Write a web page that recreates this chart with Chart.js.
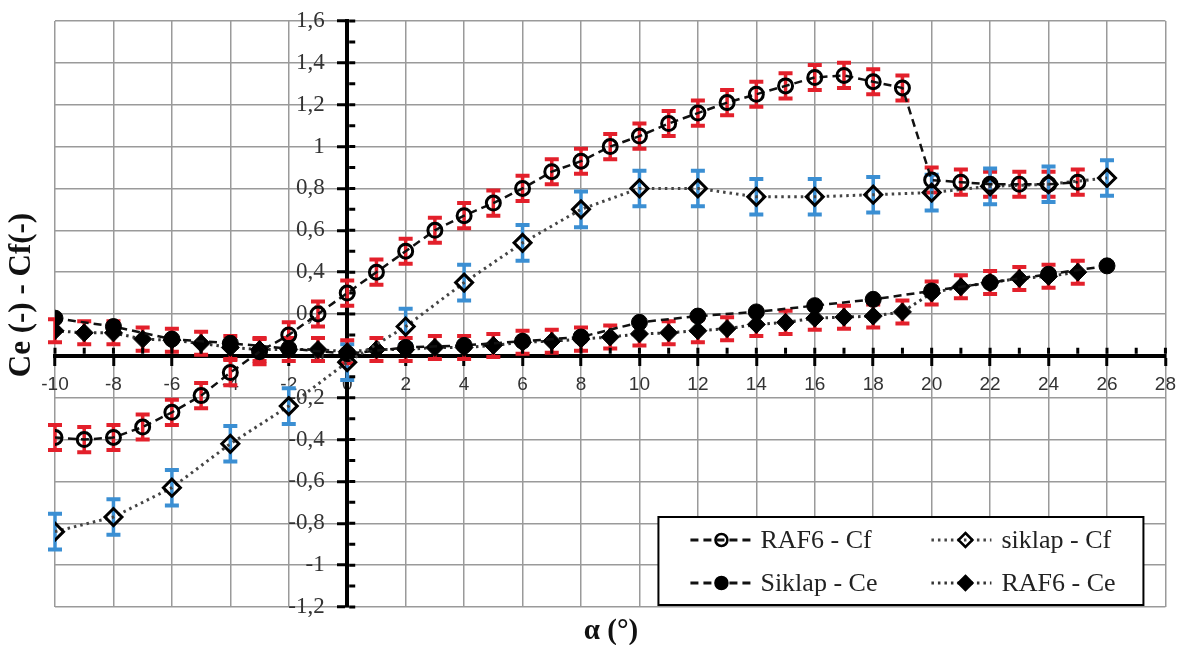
<!DOCTYPE html>
<html>
<head>
<meta charset="utf-8">
<script src="https://cdn.jsdelivr.net/npm/chart.js@4/dist/chart.umd.min.js"></script>
<style>
  html, body { margin: 0; padding: 0; background: #fff; }
  #wrap { width: 1186px; height: 645px; }
</style>
</head>
<body>
<div id="wrap"><canvas id="chart" width="1186" height="645"></canvas></div>
<script>
// angle of attack, every degree / every second degree
const alphaAll = [-10,-9,-8,-7,-6,-5,-4,-3,-2,-1,0,1,2,3,4,5,6,7,8,9,10,11,12,13,14,15,16,17,18,19,20,21,22,23,24,25]
const alphaEven = [-10,-8,-6,-4,-2,0,2,4,6,8,10,12,14,16,18,20,22,24,26]

const raf6Cf = [-0.39,-0.40,-0.39,-0.34,-0.27,-0.19,-0.08,0.02,0.10,0.20,0.30,0.40,0.50,0.60,0.67,0.73,0.80,0.88,0.93,1.00,1.05,1.11,1.16,1.21,1.25,1.29,1.33,1.34,1.31,1.28,0.84,0.83,0.82,0.82,0.82,0.83]
const siklapCf = [-0.84,-0.77,-0.63,-0.42,-0.24,-0.03,0.14,0.35,0.54,0.70,0.80,0.80,0.76,0.76,0.77,0.78,0.81,0.82,0.85]
const siklapCe = [0.18,0.14,0.08,0.06,0.035,0.01,0.04,0.05,0.07,0.09,0.16,0.19,0.21,0.24,0.27,0.31,0.35,0.39,0.43]
const raf6Ce = [0.12,0.11,0.11,0.08,0.075,0.06,0.04,0.03,0.03,0.03,0.02,0.03,0.03,0.04,0.04,0.05,0.065,0.07,0.08,0.09,0.105,0.11,0.12,0.13,0.15,0.16,0.18,0.185,0.19,0.21,0.30,0.33,0.35,0.37,0.38,0.40]

// half height of the error bars
const errRaf6Cf = 0.06
const errSiklapCf = 0.085
const errRaf6Ce = 0.055

const RED = '#e3202b'
const BLUE = '#3b8fd3'

const toPoints = (xs, ys) => xs.map((x, i) => ({ x, y: ys[i] }))

// error bars under the markers
const errorBars = {
    id: 'errorBars',
    beforeDatasetsDraw(chart) {
        const { ctx, scales: { x, y } } = chart
        chart.data.datasets.forEach(ds => {
            if (!ds.errorBar) return
            ctx.save()
            ctx.strokeStyle = ds.errorColor
            ds.data.forEach(p => {
                const px = x.getPixelForValue(p.x)
                const top = y.getPixelForValue(p.y + ds.errorBar)
                const bot = y.getPixelForValue(p.y - ds.errorBar)
                ctx.lineWidth = 3.5
                ctx.beginPath()
                ctx.moveTo(px, top); ctx.lineTo(px, bot)
                ctx.stroke()
                ctx.lineWidth = 4
                ctx.beginPath()
                ctx.moveTo(px - 7, top); ctx.lineTo(px + 7, top)
                ctx.moveTo(px - 7, bot); ctx.lineTo(px + 7, bot)
                ctx.stroke()
            })
            ctx.restore()
        })
    }
}

// small ticks on the crossing axes
const minorTicks = {
    id: 'minorTicks',
    beforeDatasetsDraw(chart) {
        const { ctx, scales: { x, y } } = chart
        const x0 = x.getPixelForValue(0)
        const y0 = y.getPixelForValue(0)
        ctx.save()
        ctx.strokeStyle = '#000'
        ctx.lineWidth = 3
        ctx.beginPath()
        for (let v = x.min; v <= x.max; v++) {
            const px = x.getPixelForValue(v)
            ctx.moveTo(px, y0 - 2); ctx.lineTo(px, y0 - 8)
        }
        for (let i = Math.round(y.min * 10); i <= Math.round(y.max * 10); i++) {
            const py = y.getPixelForValue(i / 10)
            ctx.moveTo(x0 + 2, py); ctx.lineTo(x0 + 8, py)
        }
        ctx.stroke()
        ctx.restore()
    }
}

const marker = (ctx, style, filled, cx, cy, r) => {
    ctx.beginPath()
    if (style === 'circle') {
        ctx.arc(cx, cy, r, 0, Math.PI * 2)
    } else {
        ctx.moveTo(cx, cy - r); ctx.lineTo(cx + r, cy)
        ctx.lineTo(cx, cy + r); ctx.lineTo(cx - r, cy)
        ctx.closePath()
    }
    if (filled) { ctx.fillStyle = '#000'; ctx.fill() }
    ctx.setLineDash([])
    ctx.lineWidth = 2.5
    ctx.strokeStyle = '#000'
    ctx.stroke()
}

// axis titles and the boxed legend
const decorations = {
    id: 'decorations',
    afterDraw(chart) {
        const { ctx, chartArea: area } = chart
        ctx.save()
        ctx.fillStyle = '#111'
        ctx.textAlign = 'center'
        ctx.textBaseline = 'middle'
        ctx.font = 'bold 29px "Liberation Serif"'
        ctx.fillText('α (°)', 611, 632)
        ctx.save()
        ctx.translate(22, 295)
        ctx.rotate(-Math.PI / 2)
        ctx.font = 'bold 31px "Liberation Serif"'
        ctx.fillText('Ce (-) - Cf(-)', 0, 0)
        ctx.restore()

        const w = 485, h = 88
        const left = area.right - 22 - w
        const top = area.bottom - 2 - h
        ctx.fillStyle = '#fff'
        ctx.fillRect(left, top, w, h)
        ctx.strokeStyle = '#000'
        ctx.lineWidth = 2
        ctx.strokeRect(left, top, w, h)

        const cols = [[32, 95, 63, 102], [273, 333, 307, 343]]
        const rows = [23, 66]
        chart.data.datasets.forEach((ds, k) => {
            const [l0, l1, mx, tx] = cols[k % 2]
            const cy = top + rows[Math.floor(k / 2)]
            ctx.strokeStyle = ds.borderColor
            ctx.lineWidth = 3
            ctx.setLineDash(ds.borderDash)
            ctx.beginPath()
            ctx.moveTo(left + l0, cy); ctx.lineTo(left + l1, cy)
            ctx.stroke()
            marker(ctx, ds.pointStyle, ds.pointBackgroundColor === '#000', left + mx, cy, ds.pointStyle === 'circle' ? 6 : 7)
            ctx.fillStyle = '#222'
            ctx.textAlign = 'left'
            ctx.font = '26px "Liberation Serif"'
            ctx.fillText(ds.label, left + tx, cy + 1)
        })
        ctx.restore()
    }
}

const data = {
    datasets: [
        {
            label: 'RAF6 - Cf',
            data: toPoints(alphaAll, raf6Cf),
            showLine: true,
            borderColor: '#111',
            borderWidth: 2.5,
            borderDash: [8, 5],
            pointStyle: 'circle',
            pointRadius: 7,
            pointBorderWidth: 3,
            pointBorderColor: '#000',
            pointBackgroundColor: 'rgba(255,255,255,0)',
            errorBar: errRaf6Cf,
            errorColor: RED
        },
        {
            label: 'siklap - Cf',
            data: toPoints(alphaEven, siklapCf),
            showLine: true,
            borderColor: '#444',
            borderWidth: 3,
            borderDash: [2.5, 4],
            pointStyle: 'rectRot',
            pointRadius: 8.5,
            pointBorderWidth: 3,
            pointBorderColor: '#000',
            pointBackgroundColor: 'rgba(255,255,255,0)',
            errorBar: errSiklapCf,
            errorColor: BLUE
        },
        {
            label: 'Siklap - Ce',
            data: toPoints(alphaEven, siklapCe),
            showLine: true,
            borderColor: '#111',
            borderWidth: 2.5,
            borderDash: [8, 5],
            pointStyle: 'circle',
            pointRadius: 8,
            pointBorderWidth: 1,
            pointBorderColor: '#000',
            pointBackgroundColor: '#000'
        },
        {
            label: 'RAF6 - Ce',
            data: toPoints(alphaAll, raf6Ce),
            showLine: true,
            borderColor: '#333',
            borderWidth: 3,
            borderDash: [2.5, 4],
            pointStyle: 'rectRot',
            pointRadius: 9,
            pointBorderWidth: 1,
            pointBorderColor: '#000',
            pointBackgroundColor: '#000',
            errorBar: errRaf6Ce,
            errorColor: RED
        }
    ]
}

const gridStyle = { color: '#9a9a9a', lineWidth: 1.5, tickColor: '#000', tickLength: 8, tickWidth: 3 }
const yFormat = v => String(Math.round(v * 10) / 10).replace('.', ',')

const options = {
    responsive: false,
    animation: false,
    layout: { padding: { left: 55, right: 19, top: 21, bottom: 38 } },
    plugins: {
        legend: { display: false },
        tooltip: { enabled: false }
    },
    scales: {
        x: {
            type: 'linear',
            min: -10,
            max: 28,
            position: { y: 0 },
            ticks: {
                stepSize: 2,
                padding: 10,
                color: '#333',
                font: { family: 'Liberation Sans', size: 19 }
            },
            grid: gridStyle,
            border: { color: '#000', width: 4 }
        },
        y: {
            type: 'linear',
            min: -1.2,
            max: 1.6,
            position: { x: 0 },
            ticks: { stepSize: 0.2, display: false },
            grid: gridStyle,
            border: { color: '#000', width: 4 }
        },
        // labels only, set a little left of the y axis line
        yLabels: {
            type: 'linear',
            axis: 'y',
            min: -1.2,
            max: 1.6,
            position: { x: -0.77 },
            ticks: {
                stepSize: 0.2,
                color: '#333',
                font: { family: 'Liberation Serif', size: 23 },
                callback: yFormat
            },
            grid: { display: false, drawTicks: false },
            border: { display: false }
        }
    }
}

new Chart('chart', { type: 'scatter', data, options, plugins: [errorBars, minorTicks, decorations] })
</script>
</body>
</html>
